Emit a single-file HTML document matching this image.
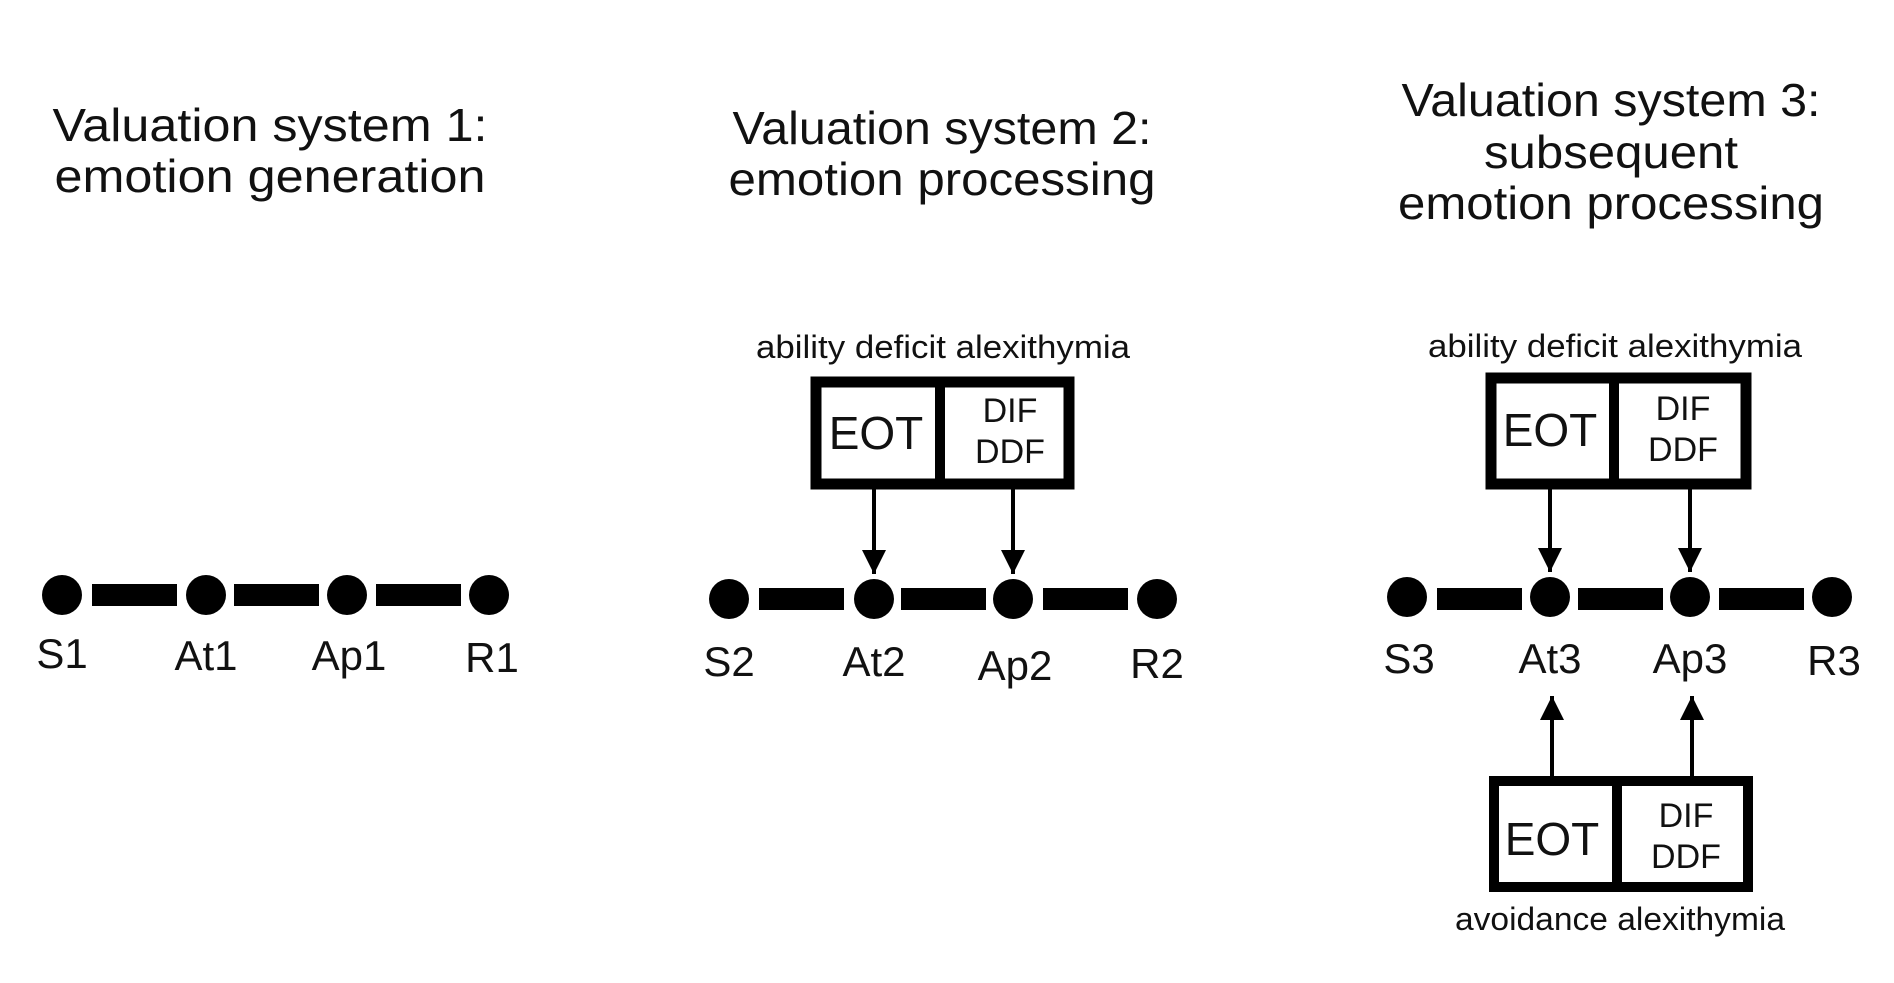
<!DOCTYPE html>
<html><head><meta charset="utf-8"><style>
html,body{margin:0;padding:0;background:#fff;}
svg{display:block;}
text{font-family:"Liberation Sans",sans-serif;fill:#111;}
</style></head><body>
<svg width="1894" height="983" viewBox="0 0 1894 983" xmlns="http://www.w3.org/2000/svg">
<defs>
<marker id="ah" viewBox="0 0 10 10" refX="10" refY="5" markerWidth="6" markerHeight="6" markerUnits="strokeWidth" orient="auto">
<path d="M0,0 L10,5 L0,10 z" fill="#000"/></marker>
</defs>
<!-- Titles -->
<g font-size="46" text-anchor="middle">
<text x="270" y="141" textLength="435" lengthAdjust="spacingAndGlyphs">Valuation system 1:</text>
<text x="270" y="192" textLength="431" lengthAdjust="spacingAndGlyphs">emotion generation</text>
<text x="942" y="144" textLength="419" lengthAdjust="spacingAndGlyphs">Valuation system 2:</text>
<text x="942" y="195" textLength="427" lengthAdjust="spacingAndGlyphs">emotion processing</text>
<text x="1611" y="116" textLength="419" lengthAdjust="spacingAndGlyphs">Valuation system 3:</text>
<text x="1611" y="168" textLength="254" lengthAdjust="spacingAndGlyphs">subsequent</text>
<text x="1611" y="219" textLength="426" lengthAdjust="spacingAndGlyphs">emotion processing</text>
</g>
<!-- Panel 1 -->
<g fill="#000">
<rect x="92" y="584" width="85" height="22"/><rect x="234" y="584" width="85" height="22"/><rect x="376" y="584" width="85" height="22"/>
<circle cx="62" cy="595" r="20"/><circle cx="206" cy="595" r="20"/><circle cx="347" cy="595" r="20"/><circle cx="489" cy="595" r="20"/>
</g>
<g font-size="42" text-anchor="middle">
<text x="62" y="668">S1</text><text x="206" y="670">At1</text><text x="349" y="670">Ap1</text><text x="492" y="672">R1</text>
</g>
<!-- Panel 2 -->
<g fill="#000">
<rect x="759" y="588" width="85" height="22"/><rect x="901" y="588" width="85" height="22"/><rect x="1043" y="588" width="85" height="22"/>
<circle cx="729" cy="599" r="20"/><circle cx="874" cy="599" r="20"/><circle cx="1013" cy="599" r="20"/><circle cx="1157" cy="599" r="20"/>
</g>
<g font-size="42" text-anchor="middle">
<text x="729" y="676">S2</text><text x="874" y="676">At2</text><text x="1015" y="680">Ap2</text><text x="1157" y="678">R2</text>
</g>
<text x="943" y="358" font-size="32" text-anchor="middle" textLength="374" lengthAdjust="spacingAndGlyphs">ability deficit alexithymia</text>
<rect x="816" y="382" width="253" height="102" fill="none" stroke="#000" stroke-width="11"/>
<rect x="935" y="382" width="10" height="102" fill="#000"/>
<text x="876" y="449" font-size="46" text-anchor="middle">EOT</text>
<text x="1010" y="422" font-size="34" text-anchor="middle">DIF</text>
<text x="1010" y="463" font-size="34" text-anchor="middle">DDF</text>
<line x1="874" y1="489" x2="874" y2="574" stroke="#000" stroke-width="4" marker-end="url(#ah)"/>
<line x1="1013" y1="489" x2="1013" y2="574" stroke="#000" stroke-width="4" marker-end="url(#ah)"/>
<!-- Panel 3 -->
<g fill="#000">
<rect x="1437" y="588" width="85" height="22"/><rect x="1578" y="588" width="85" height="22"/><rect x="1719" y="588" width="85" height="22"/>
<circle cx="1407" cy="597" r="20"/><circle cx="1550" cy="597" r="20"/><circle cx="1690" cy="597" r="20"/><circle cx="1832" cy="597" r="20"/>
</g>
<g font-size="42" text-anchor="middle">
<text x="1409" y="673">S3</text><text x="1550" y="673">At3</text><text x="1690" y="673">Ap3</text><text x="1834" y="675">R3</text>
</g>
<text x="1615" y="357" font-size="32" text-anchor="middle" textLength="374" lengthAdjust="spacingAndGlyphs">ability deficit alexithymia</text>
<rect x="1491" y="378" width="255" height="106" fill="none" stroke="#000" stroke-width="11"/>
<rect x="1609" y="378" width="10" height="106" fill="#000"/>
<text x="1550" y="446" font-size="46" text-anchor="middle">EOT</text>
<text x="1683" y="420" font-size="34" text-anchor="middle">DIF</text>
<text x="1683" y="461" font-size="34" text-anchor="middle">DDF</text>
<line x1="1550" y1="489" x2="1550" y2="572" stroke="#000" stroke-width="4" marker-end="url(#ah)"/>
<line x1="1690" y1="489" x2="1690" y2="572" stroke="#000" stroke-width="4" marker-end="url(#ah)"/>
<!-- bottom box -->
<line x1="1552" y1="776" x2="1552" y2="696" stroke="#000" stroke-width="4" marker-end="url(#ah)"/>
<line x1="1692" y1="776" x2="1692" y2="696" stroke="#000" stroke-width="4" marker-end="url(#ah)"/>
<rect x="1494" y="781" width="254" height="106" fill="none" stroke="#000" stroke-width="10"/>
<rect x="1612" y="781" width="10" height="106" fill="#000"/>
<text x="1552" y="855" font-size="46" text-anchor="middle">EOT</text>
<text x="1686" y="827" font-size="34" text-anchor="middle">DIF</text>
<text x="1686" y="868" font-size="34" text-anchor="middle">DDF</text>
<text x="1620" y="930" font-size="32" text-anchor="middle" textLength="330" lengthAdjust="spacingAndGlyphs">avoidance alexithymia</text>
</svg>
</body></html>
